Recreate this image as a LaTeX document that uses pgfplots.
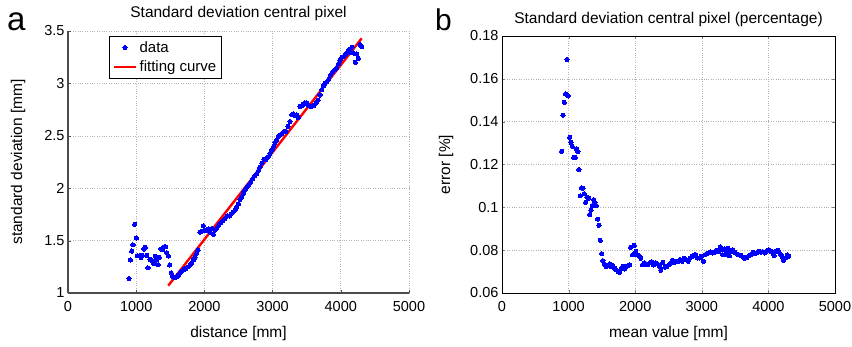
\documentclass[border=0pt]{standalone}
\usepackage{fontspec}
\setmainfont{Liberation Sans}
\usepackage{pgfplots}
\pgfplotsset{compat=1.18}
\usepackage{pgfplotstable}

\pgfplotstableread{
d s
894 1.137
914 1.315
934 1.40
953 1.46
978 1.655
1002 1.525
1017 1.356
1046 1.353
1070 1.337
1085 1.36
1114 1.42
1134 1.435
1153 1.36
1173 1.24
1202 1.32
1232 1.31
1256 1.28
1280 1.35
1300 1.315
1320 1.27
1339 1.34
1364 1.42
1388 1.415
1413 1.44
1432 1.44
1447 1.385
1471 1.353
1491 1.267
1515 1.19
1535 1.156
1569 1.146
1593 1.156
1618 1.17
1642 1.19
1672 1.21
1701 1.226
1730 1.235
1760 1.25
1789 1.267
1813 1.29
1838 1.315
1862 1.34
1887 1.38
1906 1.41
1935 1.58
1960 1.59
1984 1.64
2009 1.60
2033 1.595
2058 1.61
2082 1.58
2107 1.615
2131 1.56
2156 1.60
2180 1.62
2209 1.645
2238 1.67
2268 1.69
2302 1.71
2336 1.735
2366 1.735
2395 1.755
2424 1.775
2449 1.79
2473 1.82
2498 1.85
2522 1.89
2546 1.92
2571 1.95
2595 1.98
2620 2.01
2649 2.03
2678 2.055
2708 2.09
2737 2.12
2766 2.14
2796 2.17
2815 2.20
2845 2.24
2874 2.275
2903 2.275
2933 2.30
2962 2.33
2991 2.365
3016 2.40
3035 2.435
3060 2.46
3084 2.49
3109 2.51
3138 2.52
3167 2.54
3196 2.54
3226 2.59
3255 2.635
3284 2.70
3304 2.71
3328 2.69
3353 2.70
3377 2.675
3402 2.78
3426 2.785
3451 2.80
3475 2.815
3500 2.815
3524 2.79
3548 2.785
3578 2.785
3607 2.79
3636 2.81
3666 2.84
3695 2.89
3719 2.94
3744 2.975
3768 3.00
3793 3.015
3822 3.04
3851 3.08
3881 3.11
3910 3.13
3939 3.15
3969 3.19
3988 3.22
4013 3.25
4037 3.255
4062 3.27
4086 3.29
4115 3.32
4135 3.30
4164 3.345
4184 3.29
4213 3.20
4233 3.28
4257 3.24
4282 3.37
4306 3.35
}\stddata

\pgfplotstableread{
m e
895 0.1261
915 0.143
935 0.149
955 0.1529
975 0.169
995 0.152
1015 0.1327
1035 0.1303
1055 0.1285
1075 0.1233
1100 0.1233
1120 0.1272
1140 0.126
1155 0.1176
1175 0.1054
1195 0.109
1215 0.1089
1235 0.1064
1255 0.1023
1275 0.1048
1300 0.1043
1315 0.0966
1335 0.0986
1355 0.1008
1375 0.1036
1395 0.1022
1415 0.1008
1435 0.0945
1455 0.0916
1475 0.0846
1495 0.0784
1515 0.0751
1535 0.0734
1560 0.0724
1585 0.0729
1615 0.0735
1640 0.0724
1665 0.0728
1690 0.0715
1715 0.0709
1740 0.0701
1765 0.0696
1790 0.0712
1815 0.0724
1840 0.0712
1865 0.0724
1890 0.0728
1915 0.0732
1930 0.0813
1960 0.0779
1985 0.0822
2010 0.0794
2035 0.0779
2060 0.0774
2085 0.0762
2110 0.0732
2135 0.074
2160 0.0737
2185 0.0732
2215 0.074
2245 0.0746
2275 0.0731
2305 0.074
2335 0.0735
2365 0.0724
2385 0.0706
2415 0.0743
2445 0.0721
2475 0.0724
2505 0.0732
2535 0.074
2560 0.0752
2585 0.0743
2615 0.0748
2645 0.0748
2675 0.0756
2705 0.0748
2735 0.0762
2765 0.0756
2795 0.0748
2825 0.0763
2855 0.0771
2885 0.0777
2910 0.0779
2935 0.0763
2965 0.0763
2995 0.0771
3025 0.0748
3050 0.0779
3075 0.0784
3105 0.0787
3135 0.0791
3165 0.0787
3195 0.0791
3225 0.0799
3255 0.0794
3275 0.0815
3295 0.0802
3315 0.0779
3335 0.0805
3355 0.0779
3375 0.0794
3395 0.0808
3415 0.0774
3435 0.0794
3465 0.0802
3495 0.079
3525 0.0782
3555 0.0779
3585 0.0776
3615 0.0768
3645 0.0762
3675 0.0766
3705 0.0774
3735 0.0779
3765 0.079
3795 0.0784
3825 0.0787
3855 0.0794
3885 0.0791
3915 0.0793
3945 0.0787
3975 0.0796
4005 0.0802
4035 0.0794
4065 0.079
4085 0.0774
4115 0.0794
4145 0.0799
4175 0.0784
4205 0.0771
4225 0.0752
4255 0.0763
4285 0.0777
4305 0.0771
}\errdata

\definecolor{mblue}{rgb}{0,0,1}
\definecolor{mred}{rgb}{1,0,0}
\definecolor{axgray}{rgb}{0.3,0.3,0.3}

\pgfplotsset{
  common/.style={
    scale only axis,
    /pgf/number format/assume math mode=true,
    tick label style={font=\fontsize{14.5}{16}\selectfont},
    label style={font=\fontsize{15.5}{17}\selectfont},
    title style={font=\fontsize{15.5}{17}\selectfont},
    xmin=0, xmax=5000,
    xtick={0,1000,2000,3000,4000,5000},
    xticklabels={0,1000,2000,3000,4000,5000},
    grid=major,
    major grid style={dotted, gray!60, line width=0.6pt},
    tick align=inside,
    major tick length=3pt,
    minor tick num=0,
    xticklabel style={yshift=-5pt},
    xlabel style={yshift=-8pt},
  },
  dotlegend/.style={legend image code/.code={\draw[mark repeat=2,mark phase=2,##1] plot coordinates {(0cm,0cm) (0.4cm,0cm) (0.8cm,0cm)};}},
  linelegend/.style={legend image code/.code={\draw[##1] (0cm,0cm) -- (0.8cm,0cm);}},
}

\begin{document}
\begin{tikzpicture}
\useasboundingbox (0,0) rectangle (852pt,346pt);

\begin{axis}[common,
  at={(68pt,53pt)}, anchor=south west,
  width=341pt, height=262pt,
  ymin=1, ymax=3.5,
  ytick={1,1.5,2,2.5,3,3.5},
  yticklabels={1,1.5,2,2.5,3,3.5},
  axis lines*=left,
  axis line style={axgray, line width=1.1pt},
  tick style={axgray},
  title={Standard deviation central pixel},
  title style={yshift=1pt},
  xlabel={distance [mm]},
  ylabel={standard deviation [mm]},
  ylabel style={yshift=12pt},
  legend style={at={(0.12,0.981)}, anchor=north west, line width=1pt,
    font=\fontsize{15}{17}\selectfont, inner xsep=3pt, inner ysep=3pt, row sep=3pt,
    legend cell align=left},
]
\addplot[only marks, mark=*, mark size=2.1pt, color=mblue, mark options={draw=mblue, fill=mblue, line width=0pt}, dotlegend]
  table[x=d, y=s] {\stddata};
\addlegendentry{data}
\addplot[color=mred, line width=2.4pt, linelegend]
  coordinates {(1470,1.07) (4306,3.43)};
\addlegendentry{fitting curve}
\end{axis}

\begin{axis}[common,
  at={(502pt,53pt)}, anchor=south west,
  width=333pt, height=257pt,
  ymin=0.06, ymax=0.18,
  ytick={0.06,0.08,0.1,0.12,0.14,0.16,0.18},
  yticklabels={0.06,0.08,0.1,0.12,0.14,0.16,0.18},
  axis line style={black, line width=0.9pt},
  title={Standard deviation central pixel (percentage)},
  title style={yshift=0pt},
  xlabel={mean value [mm]},
  ylabel={error [\%]},
  ylabel style={yshift=10pt},
]
\addplot[only marks, mark=*, mark size=2.1pt, color=mblue, mark options={draw=mblue, fill=mblue, line width=0pt}] table[x=m, y=e] {\errdata};
\end{axis}

\node[anchor=base west, inner sep=0pt, font=\fontsize{33}{33}\selectfont] at (7pt,315pt) {a};
\node[anchor=base west, inner sep=0pt, font=\fontsize{30}{30}\selectfont] at (435pt,315pt) {b};
\end{tikzpicture}
\end{document}
